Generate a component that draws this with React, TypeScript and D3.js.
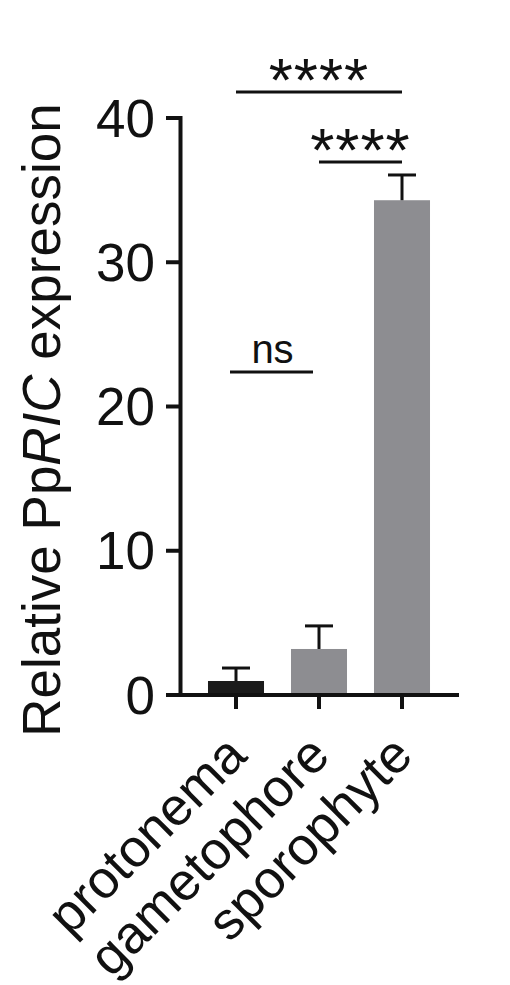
import React from "react";
import * as d3 from "d3";

const categories = ["protonema", "gametophore", "sporophyte"];
const means = [0.97, 3.19, 34.3];
const errors = [0.9, 1.6, 1.75];
const barColors = ["#1b1b1b", "#8d8d91", "#8d8d91"];
const yTicks = [0, 10, 20, 30, 40];
const comparisons = [
  { from: 0, to: 2, label: "****", level: 41.8 },
  { from: 1, to: 2, label: "****", level: 36.95 },
  { from: 0, to: 1, label: "ns", level: 22.4 },
];

const W = 510;
const H = 985;
const FONT = "'Liberation Sans', Arial, Helvetica, sans-serif";

export default function App() {
  const y = d3.scaleLinear().domain([0, 40]).range([695, 118]);
  const x = d3
    .scaleBand<string>()
    .domain(categories)
    .range([194.5, 443.5])
    .paddingInner(0.325)
    .paddingOuter(0.1625);
  const bw = x.bandwidth();
  const cx = (i: number) => (x(categories[i]) as number) + bw / 2;
  const axisX = 180.5;
  const capW = 28;

  return (
    <svg
      width={W}
      height={H}
      style={{ position: "absolute", left: 0, top: 0, background: "#fff" }}
      fontFamily={FONT}
    >
      {/* bars */}
      {categories.map((c, i) => (
        <rect
          key={c}
          x={x(c)}
          y={y(means[i])}
          width={bw}
          height={y(0) - y(means[i])}
          fill={barColors[i]}
        />
      ))}
      {/* error bars */}
      {categories.map((c, i) => (
        <g key={"e" + c} stroke="#111" strokeWidth={3}>
          <line x1={cx(i)} x2={cx(i)} y1={y(means[i])} y2={y(means[i] + errors[i])} />
          <line
            x1={cx(i) - capW / 2}
            x2={cx(i) + capW / 2}
            y1={y(means[i] + errors[i])}
            y2={y(means[i] + errors[i])}
          />
        </g>
      ))}
      {/* y axis */}
      <line x1={axisX} x2={axisX} y1={y(40) - 2} y2={y(0) + 2} stroke="#111" strokeWidth={4} />
      {yTicks.map((t) => (
        <g key={t}>
          <line x1={166} x2={axisX} y1={y(t)} y2={y(t)} stroke="#111" strokeWidth={4} />
          <text
            x={155}
            y={y(t)}
            dy="0.35em"
            textAnchor="end"
            fontSize={53}
            fill="#111"
          >
            {t}
          </text>
        </g>
      ))}
      {/* x axis */}
      <line x1={166} x2={459} y1={y(0)} y2={y(0)} stroke="#111" strokeWidth={4} />
      {categories.map((c, i) => (
        <g key={"t" + c}>
          <line x1={cx(i)} x2={cx(i)} y1={y(0)} y2={y(0) + 14} stroke="#111" strokeWidth={4} />
          <text
            transform={`translate(${cx(i) + 13},758) rotate(-45)`}
            textAnchor="end"
            fontSize={53}
            fill="#111"
          >
            {c}
          </text>
        </g>
      ))}
      {/* y title */}
      <text
        transform={`translate(60,420) rotate(-90)`}
        textAnchor="middle"
        fontSize={53}
        fill="#111"
      >
        Relative Pp<tspan fontStyle="italic">RIC</tspan> expression
      </text>
      {/* significance */}
      {comparisons.map((cmp, k) => {
        const shift = cmp.label === "ns" ? -6 : 0;
        const x1 = cx(cmp.from) + shift;
        const x2 = cx(cmp.to) + shift;
        const ly = y(cmp.level);
        const isNs = cmp.label === "ns";
        return (
          <g key={"s" + k}>
            <line x1={x1} x2={x2} y1={ly} y2={ly} stroke="#111" strokeWidth={3} />
            <text
              x={(x1 + x2) / 2 + (isNs ? 1 : 0)}
              y={isNs ? ly - 9 : ly + 9}
              textAnchor="middle"
              fontSize={isNs ? 40 : 62}
              letterSpacing={isNs ? 0 : 1}
              fill="#111"
            >
              {cmp.label}
            </text>
          </g>
        );
      })}
    </svg>
  );
}
